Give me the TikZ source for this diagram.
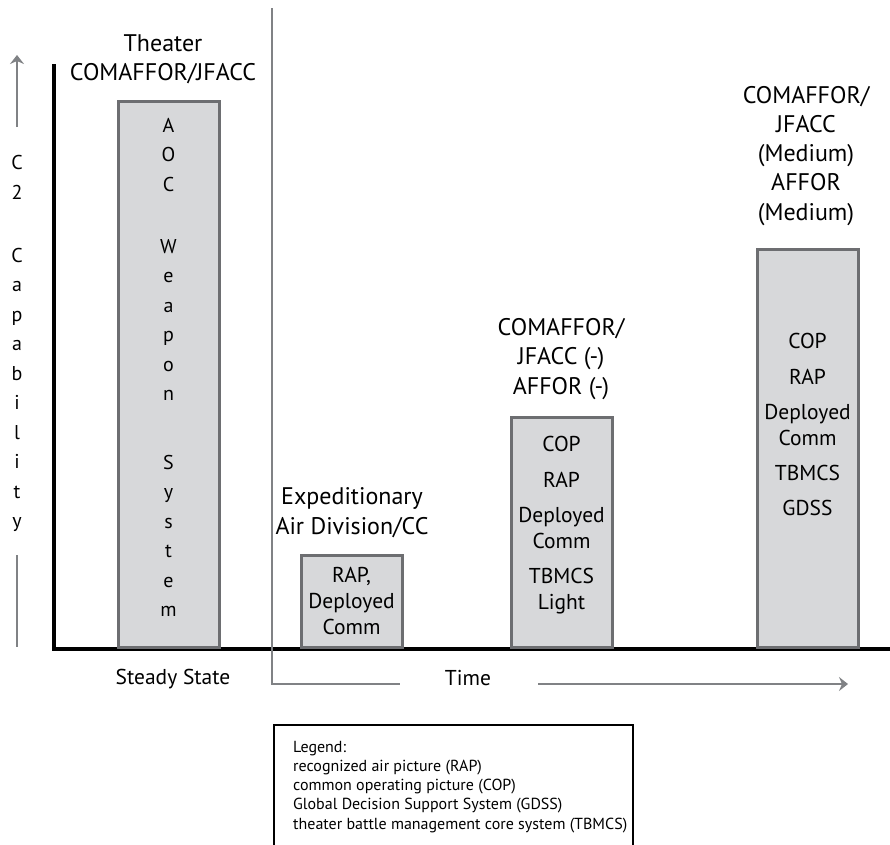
\documentclass[tikz,border=0pt]{standalone}
\usepackage{fontspec}
\setmainfont{PT Sans}
\usetikzlibrary{arrows.meta}
\definecolor{barfill}{HTML}{D7D8DA}
\definecolor{barline}{HTML}{6D6E71}
\definecolor{guide}{HTML}{808285}

\begin{document}
\begin{tikzpicture}[x=1pt,y=-1pt,
    bar/.style={draw=barline, fill=barfill, line width=3pt},
    guideline/.style={draw=guide, line width=2pt},
    axis/.style={draw=black, line width=3.6pt},
    tip/.style={-{Stealth[length=9pt,width=14pt,inset=3pt]}},
    lbl/.style={inner sep=0pt, anchor=base, align=center, font=\fontsize{24}{29.2}\selectfont},
    bartxt/.style={inner sep=0pt, anchor=base, align=center, font=\fontsize{21.5}{26}\selectfont},
    letter/.style={inner sep=0pt, anchor=base, font=\fontsize{20}{24}\selectfont}]

    \useasboundingbox (0,0) rectangle (890,844);

    % Trục C2 / thời gian
    \draw[axis] (54,64) -- (54,649) -- (890,649);
    \draw[guideline, tip] (17,127) -- (17,55);
    \draw[guideline] (17,555) -- (17,647);
    \draw[guideline] (272,8) -- (272,684) -- (400,684);
    \draw[guideline, tip] (538,684) -- (848,684);

    % Các cột
    \draw[bar] (118,101) rectangle (219,647);
    \draw[bar] (301,555) rectangle (402,647);
    \draw[bar] (511,417) rectangle (612,647);
    \draw[bar] (757,249) rectangle (858,647);

    % Chữ dọc
    \foreach \ch/\yy [count=\i] in {C/169, 2/199, C/262, a/291.5, p/321, a/350.5,
        b/380, i/409.5, l/439, i/468.5, t/498, y/527.5}
        \node[letter] (cap\i) at (17,\yy) {\ch};
    \foreach \ch/\yy [count=\i] in {A/132, O/161.5, C/191, W/253, e/282.5, a/312,
        p/341.5, o/371, n/400.5, S/469, y/498.5, s/528, t/557.5, e/587, m/616.5}
        \node[letter] (aoc\i) at (168.5,\yy) {\ch};

    % Ghi chú các cột (base = dòng cuối)
    \node[lbl] (theater) at (163,80.5) {Theater\\COMAFFOR/JFACC};
    \node[lbl] (expdiv) at (352,534) {Expeditionary\\Air Division/CC};
    \node[lbl] (minus) at (561,394) {COMAFFOR/\\JFACC (-)\\AFFOR (-)};
    \node[lbl] (medium) at (806,220) {COMAFFOR/\\JFACC\\(Medium)\\AFFOR\\(Medium)};

    \node[bartxt] (eadtxt) at (351.5,634) {RAP,\\Deployed\\Comm};
    \node[bartxt] (minustxt) at (561.5,609) {COP\\[10pt]RAP\\[9pt]Deployed\\Comm\\[9pt]TBMCS\\Light};
    \node[bartxt] (mediumtxt) at (807.5,515) {COP\\[10pt]RAP\\[9pt]Deployed\\Comm\\[9pt]TBMCS\\[9pt]GDSS};

    \node[bartxt] (steady) at (173,684) {Steady State};
    \node[bartxt] (time) at (468,685) {Time};

    % Chú thích
    \draw[line width=1.5pt] (274,846) -- (274,725) -- (633,725) -- (633,846);
    \node[inner sep=0pt, anchor=base west, align=left, font=\fontsize{16}{19.2}\selectfont]
        (legend) at (293,829) {Legend:\\recognized air picture (RAP)\\common operating picture (COP)\\Global Decision Support System (GDSS)\\theater battle management core system (TBMCS)};

\end{tikzpicture}
\end{document}
